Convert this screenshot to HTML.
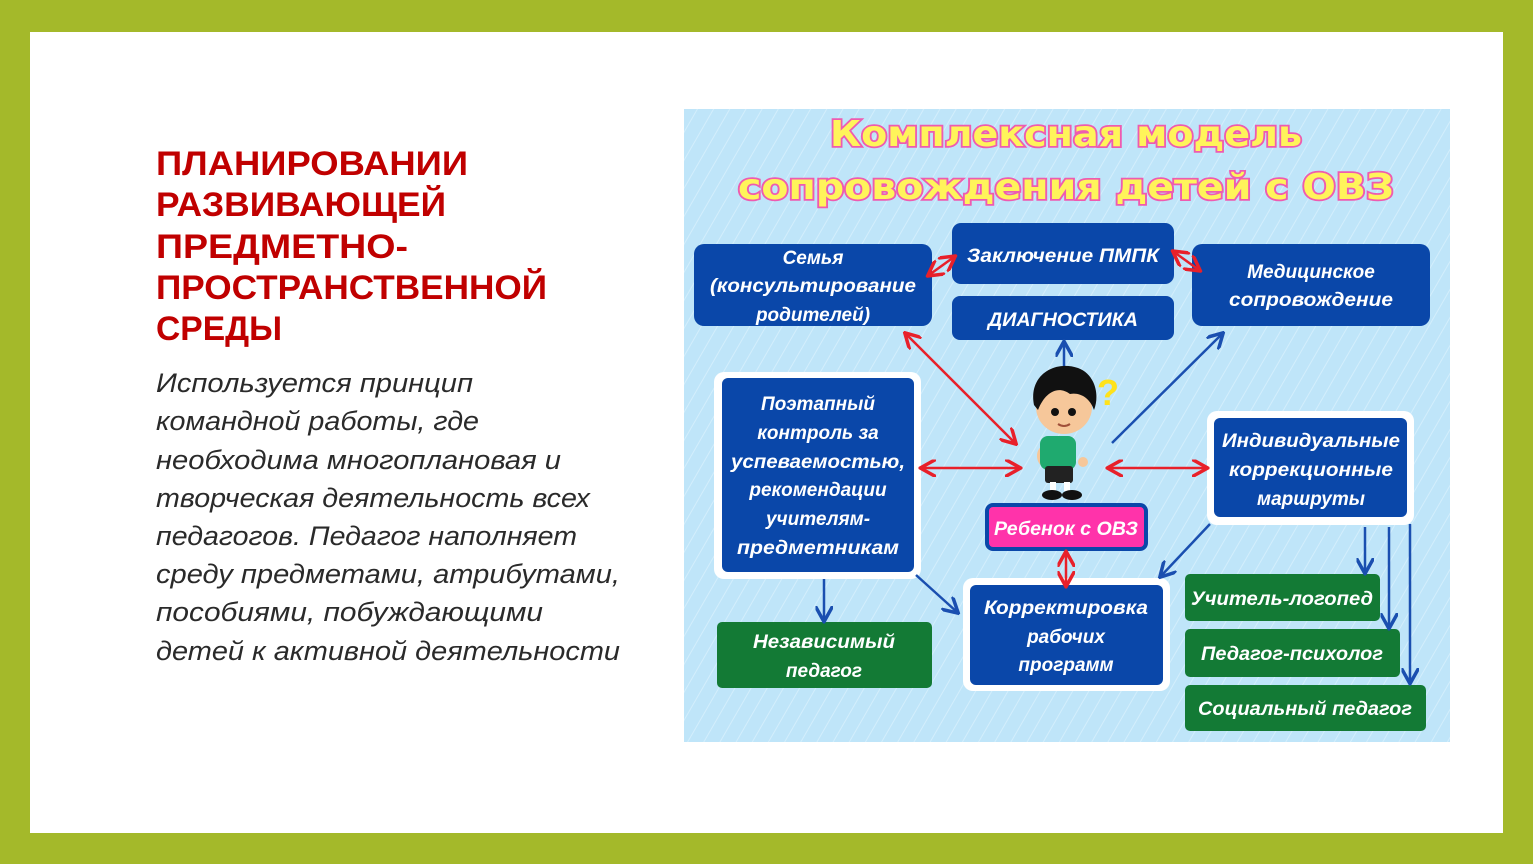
<!DOCTYPE html>
<html><head><meta charset="utf-8"><style>
html,body{margin:0;padding:0;}
body{width:1533px;height:864px;overflow:hidden;background:#a4b92a;}
svg{display:block}
.bx{font-family:"Liberation Sans",sans-serif;font-weight:bold;font-style:italic;fill:#fff;font-size:19px;text-anchor:middle}
</style></head><body>
<svg width="1533" height="864" viewBox="0 0 1533 864" xmlns="http://www.w3.org/2000/svg">
<defs>
<pattern id="st" width="14" height="14" patternUnits="userSpaceOnUse" patternTransform="rotate(30)">
<rect width="14" height="14" fill="#bfe5f9"/><line x1="0" y1="0" x2="0" y2="14" stroke="#d3eefc" stroke-width="2"/>
</pattern>
<marker id="ar" viewBox="0 0 10 10" refX="8" refY="5" markerWidth="7" markerHeight="7" orient="auto-start-reverse"><path d="M0,0 L9,5 L0,10" fill="none" stroke="#e8202a" stroke-width="2"/></marker>
<marker id="ab" viewBox="0 0 10 10" refX="8" refY="5" markerWidth="7" markerHeight="7" orient="auto-start-reverse"><path d="M0,0 L9,5 L0,10" fill="none" stroke="#1a4fb0" stroke-width="2"/></marker>
</defs>
<rect x="30" y="32" width="1473" height="801" fill="#fff"/>
<g font-family="Liberation Sans,sans-serif" font-weight="bold" font-size="34" fill="#c00000">
<text x="156" y="175" textLength="312" lengthAdjust="spacingAndGlyphs">ПЛАНИРОВАНИИ</text>
<text x="156" y="216" textLength="290" lengthAdjust="spacingAndGlyphs">РАЗВИВАЮЩЕЙ</text>
<text x="156" y="258" textLength="252" lengthAdjust="spacingAndGlyphs">ПРЕДМЕТНО-</text>
<text x="156" y="299" textLength="391" lengthAdjust="spacingAndGlyphs">ПРОСТРАНСТВЕННОЙ</text>
<text x="156" y="340" textLength="126" lengthAdjust="spacingAndGlyphs">СРЕДЫ</text>
</g>
<g font-family="Liberation Sans,sans-serif" font-style="italic" font-size="27" fill="#2a2a2a">
<text x="156" y="392" textLength="317" lengthAdjust="spacingAndGlyphs">Используется принцип</text>
<text x="156" y="430" textLength="323" lengthAdjust="spacingAndGlyphs">командной работы, где</text>
<text x="156" y="469" textLength="405" lengthAdjust="spacingAndGlyphs">необходима многоплановая и</text>
<text x="156" y="507" textLength="434" lengthAdjust="spacingAndGlyphs">творческая деятельность всех</text>
<text x="156" y="545" textLength="421" lengthAdjust="spacingAndGlyphs">педагогов. Педагог наполняет</text>
<text x="156" y="583" textLength="464" lengthAdjust="spacingAndGlyphs">среду предметами, атрибутами,</text>
<text x="156" y="621" textLength="387" lengthAdjust="spacingAndGlyphs">пособиями, побуждающими</text>
<text x="156" y="660" textLength="464" lengthAdjust="spacingAndGlyphs">детей к активной деятельности</text>
</g>
<rect x="684" y="109" width="766" height="633" fill="url(#st)"/>
<g font-family="DejaVu Sans,sans-serif" font-weight="bold" font-size="36" fill="#fff45a" stroke="#ee5bb0" stroke-width="3.5" paint-order="stroke" text-anchor="middle">
<text x="1066" y="146" textLength="472" lengthAdjust="spacingAndGlyphs">Комплексная модель</text>
<text x="1066" y="199" textLength="656" lengthAdjust="spacingAndGlyphs">сопровождения детей с ОВЗ</text>
</g>
<rect x="714" y="372" width="207" height="207" rx="10" fill="#fff"/>
<rect x="1207" y="411" width="207" height="114" rx="10" fill="#fff"/>
<rect x="963" y="578" width="207" height="113" rx="10" fill="#fff"/>
<g fill="#0a47a9">
<rect x="694" y="244" width="238" height="82" rx="10"/>
<rect x="952" y="223" width="222" height="61" rx="9"/>
<rect x="952" y="296" width="222" height="44" rx="8"/>
<rect x="1192" y="244" width="238" height="82" rx="10"/>
<rect x="722" y="378" width="192" height="194" rx="6"/>
<rect x="1214" y="418" width="193" height="99" rx="6"/>
<rect x="970" y="585" width="193" height="100" rx="6"/>
</g>
<rect x="987" y="505" width="159" height="44" rx="6" fill="#ff33aa" stroke="#0a47a9" stroke-width="4"/>
<g fill="#137a35">
<rect x="717" y="622" width="215" height="66" rx="5"/>
<rect x="1185" y="574" width="195" height="47" rx="5"/>
<rect x="1185" y="629" width="215" height="48" rx="5"/>
<rect x="1185" y="685" width="241" height="46" rx="5"/>
</g>
<g class="bx">
<text x="813" y="264">Семья</text>
<text x="813" y="292" textLength="206" lengthAdjust="spacingAndGlyphs">(консультирование</text>
<text x="813" y="321">родителей)</text>
<text x="1063" y="262" textLength="192" lengthAdjust="spacingAndGlyphs">Заключение ПМПК</text>
<text x="1063" y="326" textLength="150" lengthAdjust="spacingAndGlyphs">ДИАГНОСТИКА</text>
<text x="1311" y="278">Медицинское</text>
<text x="1311" y="306" textLength="164" lengthAdjust="spacingAndGlyphs">сопровождение</text>
<text x="818" y="410">Поэтапный</text>
<text x="818" y="439">контроль за</text>
<text x="818" y="468" textLength="174" lengthAdjust="spacingAndGlyphs">успеваемостью,</text>
<text x="818" y="496">рекомендации</text>
<text x="818" y="525">учителям-</text>
<text x="818" y="554" textLength="162" lengthAdjust="spacingAndGlyphs">предметникам</text>
<text x="1311" y="447" textLength="178" lengthAdjust="spacingAndGlyphs">Индивидуальные</text>
<text x="1311" y="476" textLength="164" lengthAdjust="spacingAndGlyphs">коррекционные</text>
<text x="1311" y="505">маршруты</text>
<text x="1066" y="535" textLength="144" lengthAdjust="spacingAndGlyphs">Ребенок с ОВЗ</text>
<text x="1066" y="614" textLength="164" lengthAdjust="spacingAndGlyphs">Корректировка</text>
<text x="1066" y="643">рабочих</text>
<text x="1066" y="671">программ</text>
<text x="824" y="648" textLength="142" lengthAdjust="spacingAndGlyphs">Независимый</text>
<text x="824" y="677">педагог</text>
<text x="1282" y="605" textLength="182" lengthAdjust="spacingAndGlyphs">Учитель-логопед</text>
<text x="1292" y="660" textLength="182" lengthAdjust="spacingAndGlyphs">Педагог-психолог</text>
<text x="1305" y="715" textLength="214" lengthAdjust="spacingAndGlyphs">Социальный педагог</text>
</g>
<g stroke="#e8202a" stroke-width="2.5" fill="none">
<line x1="929" y1="275" x2="954" y2="257" marker-start="url(#ar)" marker-end="url(#ar)"/>
<line x1="1174" y1="252" x2="1199" y2="270" marker-start="url(#ar)" marker-end="url(#ar)"/>
<line x1="906" y1="334" x2="1015" y2="443" marker-start="url(#ar)" marker-end="url(#ar)"/>
<line x1="922" y1="468" x2="1019" y2="468" marker-start="url(#ar)" marker-end="url(#ar)"/>
<line x1="1109" y1="468" x2="1206" y2="468" marker-start="url(#ar)" marker-end="url(#ar)"/>
<line x1="1066" y1="553" x2="1066" y2="585" marker-start="url(#ar)" marker-end="url(#ar)"/>
</g>
<g stroke="#1a4fb0" stroke-width="2.5" fill="none">
<line x1="1064" y1="366" x2="1064" y2="343" marker-end="url(#ab)"/>
<line x1="1112" y1="443" x2="1222" y2="334" marker-end="url(#ab)"/>
<line x1="824" y1="579" x2="824" y2="620" marker-end="url(#ab)"/>
<line x1="916" y1="575" x2="957" y2="612" marker-end="url(#ab)"/>
<line x1="1210" y1="524" x2="1161" y2="576" marker-end="url(#ab)"/>
<line x1="1365" y1="527" x2="1365" y2="572" marker-end="url(#ab)"/>
<line x1="1389" y1="527" x2="1389" y2="627" marker-end="url(#ab)"/>
<line x1="1410" y1="524" x2="1410" y2="682" marker-end="url(#ab)"/>
</g>
<g>
<text x="1097" y="405" font-family="Liberation Sans,sans-serif" font-weight="bold" font-size="36" fill="#ffe21a">?</text>
<ellipse cx="1044" cy="456" rx="7" ry="10" fill="#f6c79a"/>
<rect x="1040" y="436" width="36" height="34" rx="8" fill="#1faa6f"/>
<rect x="1045" y="466" width="28" height="17" rx="3" fill="#222"/>
<rect x="1050" y="482" width="6" height="9" fill="#fff"/>
<rect x="1064" y="482" width="6" height="9" fill="#fff"/>
<ellipse cx="1052" cy="495" rx="10" ry="5" fill="#111"/>
<ellipse cx="1072" cy="495" rx="10" ry="5" fill="#111"/>
<circle cx="1083" cy="462" r="5" fill="#f6c79a"/>
<ellipse cx="1064" cy="407" rx="28" ry="27" fill="#f6c79a"/>
<path d="M1034,405 C1028,375 1055,360 1078,368 C1095,374 1100,395 1094,410 C1090,398 1080,392 1070,394 C1058,385 1045,392 1038,410 Z" fill="#111"/>
<circle cx="1055" cy="412" r="4" fill="#111"/>
<circle cx="1072" cy="412" r="4" fill="#111"/>
<path d="M1058,424 q6,4 12,0" stroke="#a0503a" stroke-width="2" fill="none"/>
</g>
</svg>
</body></html>
